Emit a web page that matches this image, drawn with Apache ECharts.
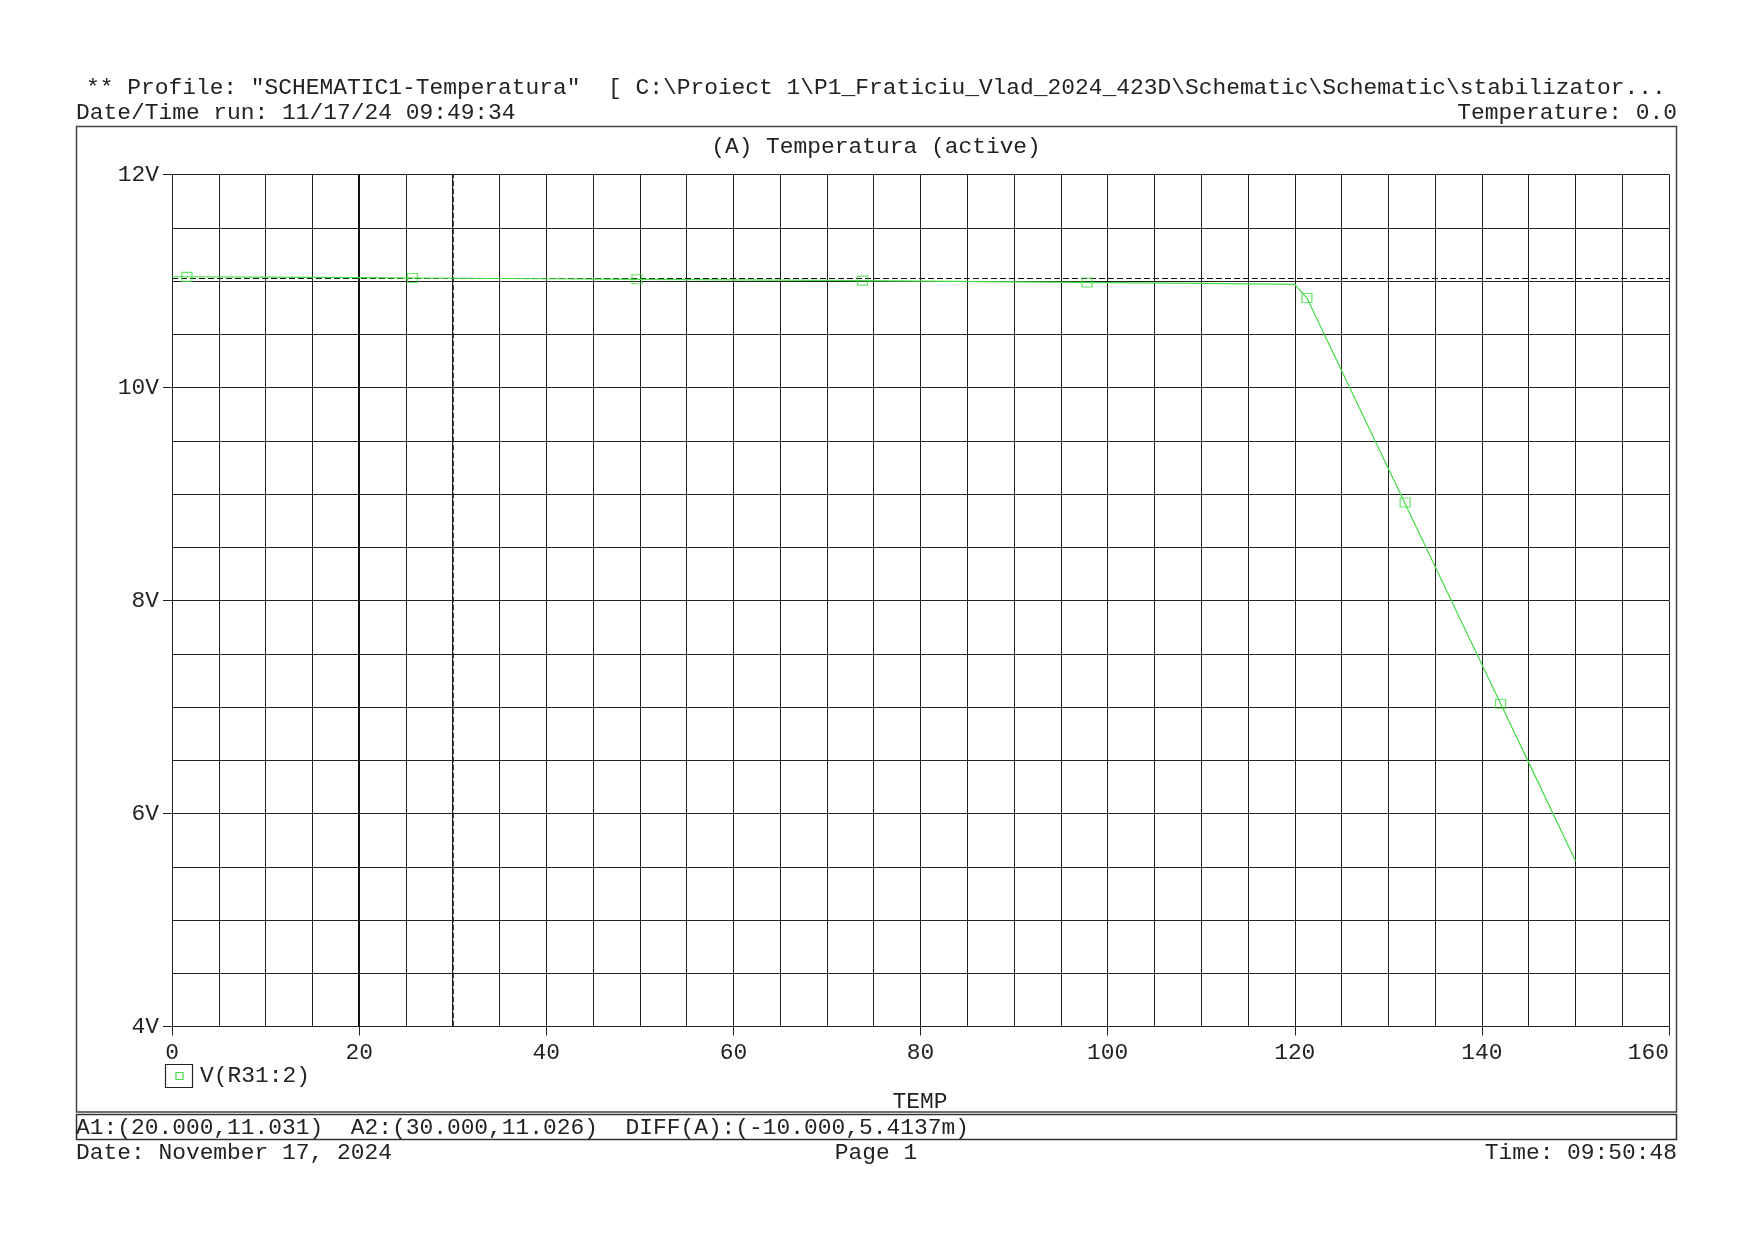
<!DOCTYPE html>
<html>
<head>
<meta charset="utf-8">
<script src="https://cdn.jsdelivr.net/npm/echarts@6/dist/echarts.min.js"></script>
<style>
html,body{margin:0;padding:0;background:#fff;}
#c{width:1755px;height:1241px;}
</style>
</head>
<body>
<div id="c"></div>
<script>
// ---- data ----
var temps = [0, 10, 20, 30, 40, 50, 60, 70, 80, 90, 100, 110, 120, 121.3, 125, 130, 135, 140, 145, 150];
var volts = [11.040, 11.036, 11.031, 11.026, 11.021, 11.016, 11.011, 11.005, 10.999, 10.992, 10.985, 10.977, 10.968, 10.84, 10.16, 9.24, 8.32, 7.40, 6.48, 5.556];
var markerTemps = [1.6, 25.7, 49.7, 73.8, 97.8, 121.3, 131.8, 142.0];
var markerVolts = [11.039, 11.028, 11.016, 11.003, 10.986, 10.84, 8.92, 7.03];
var cursorX = [20, 30];
var cursorY = [11.031, 11.026];
var xTicks = [0, 20, 40, 60, 80, 100, 120, 140, 160];
var yTicks = [4, 6, 8, 10, 12];
var seriesName = 'V(R31:2)';
var headerLine1 = '** Profile: "SCHEMATIC1-Temperatura"  [ C:\\Proiect 1\\P1_Fraticiu_Vlad_2024_423D\\Schematic\\Schematic\\stabilizator...';
var headerLine2 = 'Date/Time run: 11/17/24 09:49:34';
var headerRight = 'Temperature: 0.0';
var plotTitle = '(A) Temperatura (active)';
var xName = 'TEMP';
var cursorText = 'A1:(20.000,11.031)  A2:(30.000,11.026)  DIFF(A):(-10.000,5.4137m)';
var footLeft = 'Date: November 17, 2024';
var footMid = 'Page 1';
var footRight = 'Time: 09:50:48';

var FONT = '"Liberation Mono", "Courier New", monospace';
var FS = 22.9;
var GREEN = '#45dd45';
var GRIDC = '#222';

var lineData = temps.map(function (t, i) { return [t, volts[i]]; });
var markData = markerTemps.map(function (t, i) { return [t, markerVolts[i]]; });

var chart = echarts.init(document.getElementById('c'), null, {renderer: 'canvas'});

function txt(x, y, s, align) {
  return {type: 'text', x: x, y: y, style: {text: s, font: FS + 'px ' + FONT, fill: '#222', textAlign: align || 'left', textVerticalAlign: 'middle'}};
}

var option = {
  backgroundColor: '#fff',
  animation: false,
  grid: {left: 172, top: 174.5, width: 1497, height: 852, containLabel: false},
  xAxis: {
    type: 'value', min: 0, max: 160, interval: 20,
    axisLine: {show: true, lineStyle: {color: GRIDC, width: 1}},
    axisTick: {show: true, inside: false, length: 9, lineStyle: {color: GRIDC}},
    axisLabel: {margin: 15, color: '#222', fontFamily: FONT, fontSize: FS, alignMaxLabel: 'right',
      formatter: function (v) { return xTicks.indexOf(v) >= 0 ? String(v) : ''; }},
    splitLine: {show: true, lineStyle: {color: GRIDC, width: 1}},
    minorTick: {show: false, splitNumber: 4},
    minorSplitLine: {show: true, lineStyle: {color: GRIDC, width: 1}}
  },
  yAxis: {
    type: 'value', min: 4, max: 12, interval: 2,
    axisLine: {show: true, lineStyle: {color: GRIDC, width: 1}},
    axisTick: {show: true, inside: false, length: 9, lineStyle: {color: GRIDC}},
    axisLabel: {margin: 13, color: '#222', fontFamily: FONT, fontSize: FS,
      formatter: function (v) { return yTicks.indexOf(v) >= 0 ? v + 'V' : ''; }},
    splitLine: {show: true, lineStyle: {color: GRIDC, width: 1}},
    minorTick: {show: false, splitNumber: 4},
    minorSplitLine: {show: true, lineStyle: {color: GRIDC, width: 1}}
  },
  series: [
    {
      name: seriesName, type: 'line', data: lineData, showSymbol: false, symbol: 'none',
      lineStyle: {color: GREEN, width: 1.2}, z: 5,
      markLine: {
        silent: true, symbol: 'none', label: {show: false},
        lineStyle: {color: '#111', type: [6, 3], width: 1},
        data: cursorY.map(function (v) { return {yAxis: v}; })
          .concat([{xAxis: cursorX[0], lineStyle: {type: 'solid', width: 2, color: '#111'}},
                   {xAxis: cursorX[1], lineStyle: {type: [6, 2], width: 1.5, color: '#111'}}])
      }
    },
    {
      name: seriesName + ' markers', type: 'scatter', data: markData,
      symbol: 'rect', symbolSize: [10, 9],
      itemStyle: {color: 'rgba(0,0,0,0)', borderColor: GREEN, borderWidth: 1.2}, z: 6
    }
  ],
  graphic: [
    {type: 'rect', shape: {x: 76.5, y: 126.5, width: 1600, height: 985.5}, style: {fill: 'none', stroke: '#444', lineWidth: 1.5}},
    {type: 'rect', shape: {x: 76.5, y: 1114.5, width: 1600, height: 25}, style: {fill: 'none', stroke: '#333', lineWidth: 1.5}},
    txt(86, 88, headerLine1),
    txt(76, 112.5, headerLine2),
    txt(1677, 112.5, headerRight, 'right'),
    txt(876, 146.5, plotTitle, 'center'),
    {type: 'rect', shape: {x: 165.5, y: 1064.5, width: 27, height: 23}, style: {fill: 'none', stroke: '#222', lineWidth: 1.2}},
    {type: 'rect', shape: {x: 176, y: 1072.5, width: 7, height: 7}, style: {fill: 'none', stroke: GREEN, lineWidth: 1.2}},
    txt(200, 1076, seriesName),
    txt(920, 1101.5, xName, 'center'),
    txt(76, 1127.5, cursorText),
    txt(76, 1152.5, footLeft),
    txt(876, 1152.5, footMid, 'center'),
    txt(1677, 1152.5, footRight, 'right')
  ]
};
chart.setOption(option);
</script>
</body>
</html>
